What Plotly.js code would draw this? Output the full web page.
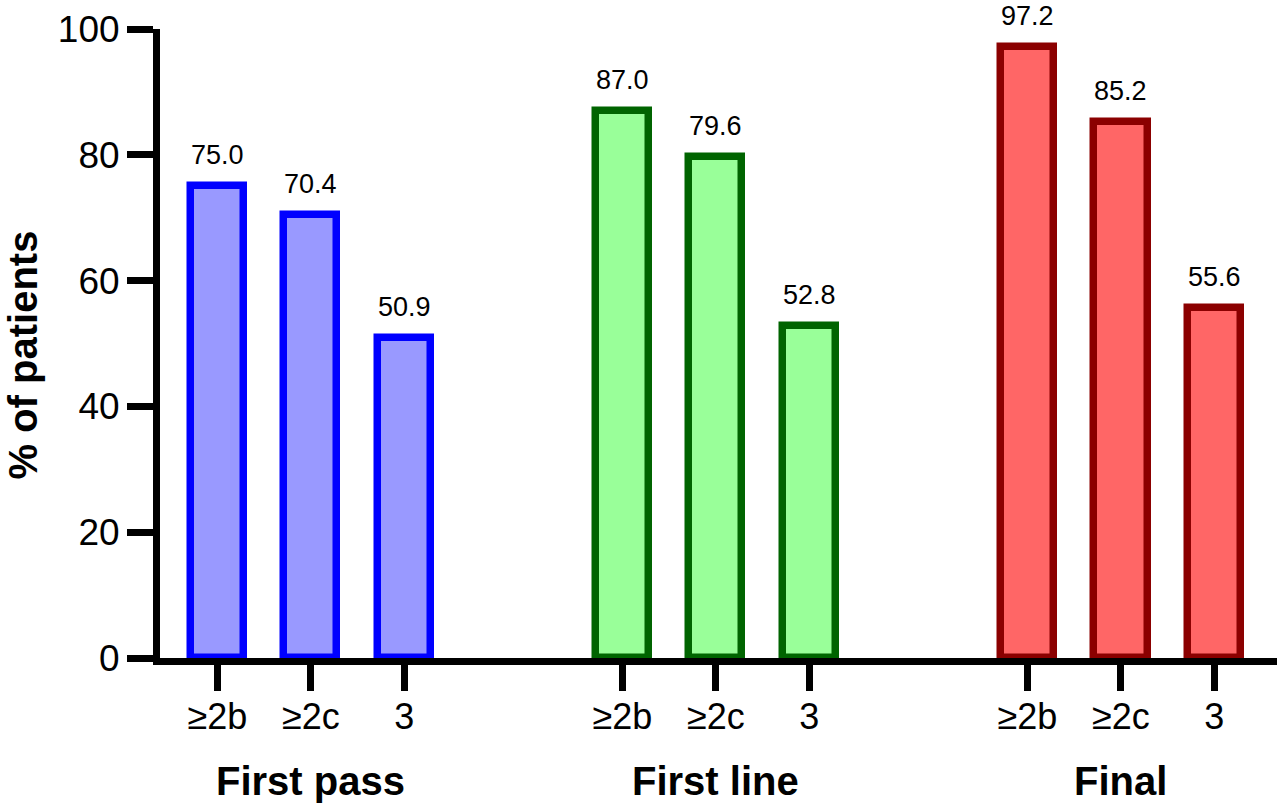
<!DOCTYPE html>
<html>
<head>
<meta charset="utf-8">
<script src="https://cdn.plot.ly/plotly-3.0.1.min.js"></script>
<style>
  html, body { margin: 0; padding: 0; background: #fff; }
  #chart { width: 1280px; height: 808px; }
</style>
</head>
<body>
<div id="chart"></div>
<script>
// data
var groups = ["First pass", "First line", "Final"];
var grades = ["≥2b", "≥2c", "3"];
var firstPass = [75.0, 70.4, 50.9];
var firstLine = [87.0, 79.6, 52.8];
var finalVals = [97.2, 85.2, 55.6];

var allVals = [firstPass, firstLine, finalVals];
var fills = ["#9999ff", "#99ff99", "#ff6666"];
var borders = ["#0000ff", "#006400", "#8b0000"];

var groupStep = 13 / 3; // gap between groups, in bar slots
var font = "Liberation Sans, Arial, Helvetica, sans-serif";

var traces = [];
var annots = [];
var tickvals = [];
var ticktext = [];

allVals.forEach(function (vals, g) {
  var xs = grades.map(function (_, i) { return g * groupStep + i; });
  traces.push({
    type: "bar",
    x: xs,
    y: vals,
    width: 0.57,
    marker: { color: fills[g], line: { color: borders[g], width: 7.5 } },
    hoverinfo: "y",
    showlegend: false
  });
  xs.forEach(function (x, i) {
    tickvals.push(x);
    ticktext.push(grades[i]);
    // value labels above each bar
    annots.push({
      x: x, y: vals[i], xref: "x", yref: "y",
      text: vals[i].toFixed(1),
      showarrow: false, yanchor: "bottom", yshift: 14,
      font: { family: font, size: 27, color: "#000" }
    });
  });
  // group name under the ticks
  annots.push({
    x: g * groupStep + 1, y: -0.196, xref: "x", yref: "paper",
    text: "<b>" + groups[g] + "</b>",
    showarrow: false, yanchor: "middle",
    font: { family: font, size: 40, color: "#000" }
  });
});

annots.push({
  x: 0, y: 0.5, xref: "paper", yref: "paper",
  xshift: -138, yshift: -12,
  text: "<b>% of patients</b>", textangle: -90,
  showarrow: false, xanchor: "center", yanchor: "middle",
  font: { family: font, size: 40, color: "#000" }
});

var layout = {
  width: 1280,
  height: 808,
  margin: { l: 160, r: 3, t: 29, b: 150 },
  paper_bgcolor: "#fff",
  plot_bgcolor: "#fff",
  font: { family: font, color: "#000" },
  bargap: 0,
  xaxis: {
    range: [-0.613, 11.337],
    tickvals: tickvals,
    ticktext: ticktext,
    showline: true, linecolor: "#000", linewidth: 7,
    ticks: "outside", ticklen: 26, tickwidth: 7, tickcolor: "#000",
    ticklabelstandoff: -5,
    tickfont: { family: font, size: 36 },
    showgrid: false, zeroline: false, fixedrange: true
  },
  yaxis: {
    range: [0, 100],
    dtick: 20,
    showline: true, linecolor: "#000", linewidth: 7,
    ticks: "outside", ticklen: 26, tickwidth: 7, tickcolor: "#000",
    ticklabelstandoff: 0,
    tickfont: { family: font, size: 37 },
    showgrid: false, zeroline: false, fixedrange: true
  },
  annotations: annots
};

Plotly.newPlot("chart", traces, layout, { displayModeBar: false, responsive: false });
</script>
</body>
</html>
